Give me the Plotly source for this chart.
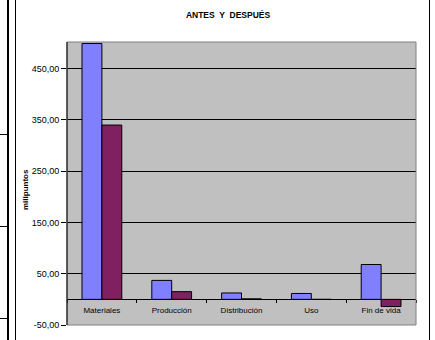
import plotly.graph_objects as go

# Values in millipoints, before and after
categorias = ["Materiales", "Producción", "Distribución", "Uso", "Fin de vida"]
antes = [499.0, 37.0, 12.5, 11.5, 68.0]
despues = [340.0, 15.0, 1.0, 0.0, -14.0]

tick_vals = [-50, 50, 150, 250, 350, 450]
tick_text = ["-50,00", "50,00", "150,00", "250,00", "350,00", "450,00"]

W, H = 435, 340
ML, MR, MT, MB = 67, 19, 42, 15
Y_MIN, Y_MAX = -50, 502

FONT = "Liberation Sans, Arial, sans-serif"

fig = go.Figure()
fig.add_trace(go.Bar(
    x=categorias, y=antes, name="Antes",
    marker=dict(color="#8080FF", line=dict(color="#000000", width=1)),
))
fig.add_trace(go.Bar(
    x=categorias, y=despues, name="Después",
    marker=dict(color="#802060", line=dict(color="#000000", width=1)),
))

pw = W - ML - MR
ph = H - MT - MB


def px_x(x):
    return (x - ML) / pw


def px_y(y):
    return 1 - (y - MT) / ph


# Surrounding page rules
shapes = []
line_black = dict(color="#000000", width=1)
shapes.append(dict(type="line", xref="paper", yref="paper",
                   x0=px_x(8), x1=px_x(8), y0=px_y(0), y1=px_y(H),
                   line=dict(color="#000000", width=2)))
shapes.append(dict(type="line", xref="paper", yref="paper",
                   x0=px_x(15.5), x1=px_x(15.5), y0=px_y(0), y1=px_y(H),
                   line=line_black))
shapes.append(dict(type="line", xref="paper", yref="paper",
                   x0=px_x(429.5), x1=px_x(429.5), y0=px_y(0), y1=px_y(H),
                   line=line_black))
for yy in (134.5, 226.5, 318.5):
    shapes.append(dict(type="line", xref="paper", yref="paper",
                       x0=px_x(0), x1=px_x(8), y0=px_y(yy), y1=px_y(yy),
                       line=line_black))
# Plot area border
shapes.append(dict(type="rect", xref="paper", yref="paper",
                   x0=0, x1=1, y0=0, y1=1, layer="above",
                   line=dict(color="#808080", width=1)))
shapes.append(dict(type="line", xref="paper", yref="paper",
                   x0=0, x1=0, y0=0, y1=1, layer="above",
                   line=dict(color="#000000", width=1)))

zero_pos = (0 - Y_MIN) / (Y_MAX - Y_MIN)

fig.update_layout(
    width=W, height=H,
    margin=dict(l=ML, r=MR, t=MT, b=MB, autoexpand=False),
    paper_bgcolor="#FFFFFF",
    plot_bgcolor="#C0C0C0",
    showlegend=False,
    barmode="group",
    bargap=0.43,
    bargroupgap=0,
    font=dict(family=FONT, color="#000000"),
    title=dict(text="<b>ANTES  Y  DESPUÉS</b>", x=228 / W, xanchor="center",
               y=1 - 15 / H, yanchor="middle",
               font=dict(family=FONT, size=8.5, color="#000000")),
    xaxis=dict(
        type="category",
        anchor="free", position=zero_pos,
        showline=True, linecolor="#000000", linewidth=1,
        ticks="outside", ticklen=3, tickcolor="#000000",
        tickson="boundaries",
        ticklabelstandoff=3,
        showgrid=False,
        tickfont=dict(family=FONT, size=8, color="#000000"),
    ),
    yaxis=dict(
        range=[Y_MIN, Y_MAX],
        tickvals=tick_vals, ticktext=tick_text,
        ticks="outside", ticklen=5, tickcolor="#000000",
        showgrid=True, gridcolor="#000000", gridwidth=1,
        zeroline=False,
        showline=False,
        tickfont=dict(family=FONT, size=9, color="#000000"),
    ),
    annotations=[dict(
        text="<b>milipuntos</b>", textangle=-90,
        xref="paper", yref="paper", x=px_x(25), y=px_y(190),
        xanchor="center", yanchor="middle", showarrow=False,
        font=dict(family=FONT, size=8, color="#000000"),
    )],
    shapes=shapes,
)

fig.write_html("out.html")
